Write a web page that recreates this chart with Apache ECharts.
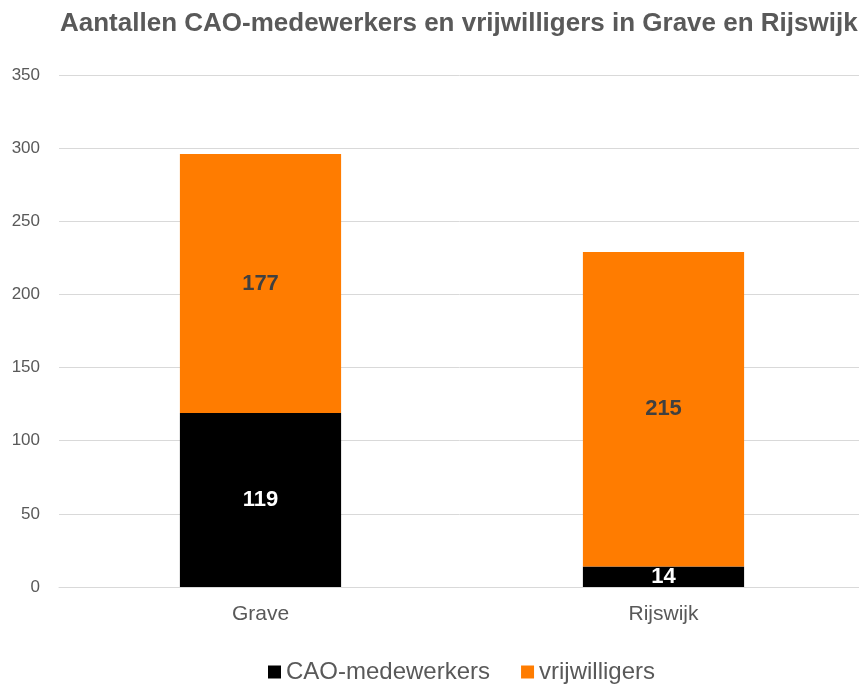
<!DOCTYPE html>
<html>
<head>
<meta charset="utf-8">
<script src="https://cdn.jsdelivr.net/npm/echarts@6/dist/echarts.min.js"></script>
<style>
  html, body { margin: 0; padding: 0; background: #fff; }
  #chart { width: 859px; height: 689px; }
</style>
</head>
<body>
<div id="chart"></div>
<script>
// data
const categories = ['Grave', 'Rijswijk']
const caoMedewerkers = [119, 14]
const vrijwilligers = [177, 215]
const yTicks = { min: 0, max: 350, interval: 50 }

const chart = echarts.init(document.getElementById('chart'))
const font = 'Liberation Sans, Arial, sans-serif'

chart.setOption({
  animation: false,
  textStyle: { fontFamily: font },
  title: {
    text: 'Aantallen CAO-medewerkers en vrijwilligers in Grave en Rijswijk',
    left: 55,
    top: 6,
    textStyle: { fontSize: 26, fontWeight: 'bold', color: '#595959', fontFamily: font }
  },
  legend: {
    top: 655,
    left: 263,
    itemWidth: 13,
    itemHeight: 13,
    itemGap: 31,
    icon: 'rect',
    textStyle: { fontSize: 24, color: '#595959', fontFamily: font },
    data: ['CAO-medewerkers', 'vrijwilligers']
  },
  grid: { left: 59, width: 806, top: 75, bottom: 102, outerBoundsMode: 'none' },
  xAxis: {
    type: 'category',
    data: categories,
    axisLine: { lineStyle: { color: '#d9d9d9' } },
    axisTick: { show: false },
    axisLabel: { fontSize: 21, color: '#595959', margin: 17 }
  },
  yAxis: {
    type: 'value',
    min: yTicks.min,
    max: yTicks.max,
    interval: yTicks.interval,
    axisLine: { show: false },
    axisTick: { show: false },
    splitLine: { lineStyle: { color: '#d9d9d9' } },
    axisLabel: { fontSize: 17, color: '#595959', margin: 19 }
  },
  series: [
    {
      name: 'CAO-medewerkers',
      type: 'bar',
      stack: 'total',
      barWidth: '40%',
      data: caoMedewerkers,
      itemStyle: { color: '#000000' },
      label: { show: true, position: 'inside', fontSize: 22, fontWeight: 'bold', color: '#ffffff' }
    },
    {
      name: 'vrijwilligers',
      type: 'bar',
      stack: 'total',
      barWidth: '40%',
      data: vrijwilligers,
      itemStyle: { color: '#ff7c00' },
      label: { show: true, position: 'inside', fontSize: 22, fontWeight: 'bold', color: '#404040' }
    }
  ]
})
</script>
</body>
</html>
